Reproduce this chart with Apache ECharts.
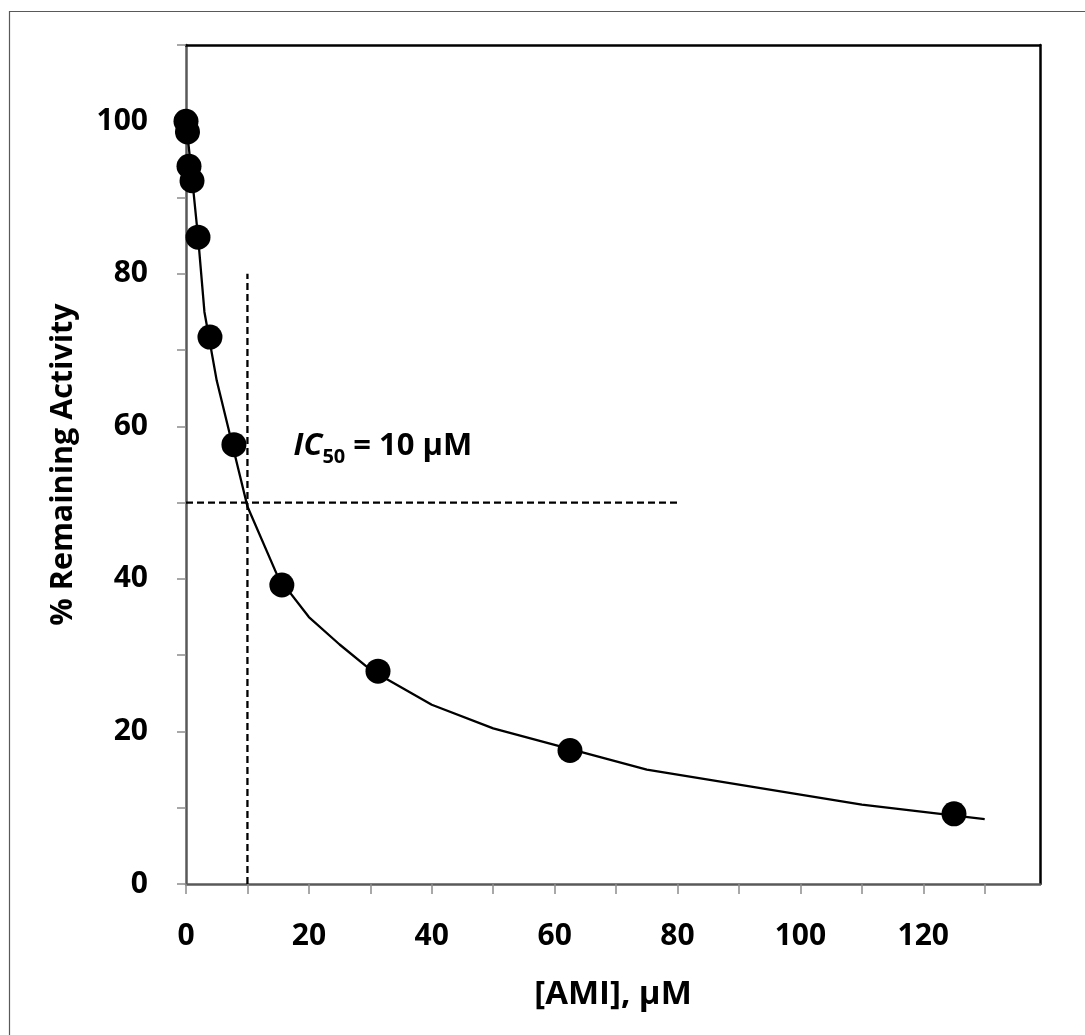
<!DOCTYPE html>
<html>
<head>
<meta charset="utf-8">
<script src="https://cdn.jsdelivr.net/npm/echarts@6/dist/echarts.min.js"></script>
<style>
  html, body { margin: 0; padding: 0; background: #fff; }
  #chart { width: 1085px; height: 1035px; }
</style>
</head>
<body>
<div id="chart"></div>
<script>
// Measured inhibition: AMI concentration (µM) vs % remaining activity
const concentrations = [0, 0.24, 0.49, 0.98, 1.95, 3.9, 7.8, 15.6, 31.25, 62.5, 125];
const remainingActivity = [100, 98.6, 94.1, 92.2, 84.8, 71.7, 57.6, 39.2, 27.9, 17.5, 9.2];

// Fitted dose-response curve vertices
const fitX = [0, 1, 2, 3, 5, 10, 15, 20, 25, 30, 40, 50, 75, 110, 130];
const fitY = [100, 92.5, 84.5, 75, 66, 49.5, 40.2, 35, 31.4, 28.1, 23.5, 20.4, 15, 10.4, 8.5];

// IC50 guide lines
const ic50 = 10;
const halfActivity = 50;
const guideTopY = 80;
const guideRightX = 80;

// Axis ticks and labels
const xTicks = [0, 10, 20, 30, 40, 50, 60, 70, 80, 90, 100, 110, 120, 130];
const xTickLabels = [0, 20, 40, 60, 80, 100, 120];
const yTicks = [0, 10, 20, 30, 40, 50, 60, 70, 80, 90, 100, 110];
const yTickLabels = [0, 20, 40, 60, 80, 100];
const xMax = 139;
const yMax = 110;

const FONT = '"Open Sans", Lato, sans-serif';
const AXIS_GREY = '#595959';
const TICK_GREY = '#8c8c8c';

const chart = echarts.init(document.getElementById('chart'), null, { renderer: 'canvas' });

const zip = (xs, ys) => xs.map((x, i) => [x, ys[i]]);

const option = {
  animation: false,
  backgroundColor: '#ffffff',
  grid: {
    left: 186, top: 45, right: 45, bottom: 151,
    containLabel: false,
    outerBoundsMode: 'none'
  },
  xAxis: [
    {
      type: 'value', min: 0, max: xMax, position: 'bottom',
      splitLine: { show: false },
      axisLine: { show: true, onZero: false, lineStyle: { color: AXIS_GREY, width: 2.5 } },
      axisTick: { show: true, customValues: xTicks, length: 10, lineStyle: { color: TICK_GREY, width: 1.5 } },
      axisLabel: {
        customValues: xTickLabels, margin: 37,
        color: '#000', fontFamily: FONT, fontWeight: 'bold', fontSize: 30
      },
      name: '[AMI], μM', nameLocation: 'middle', nameGap: 94,
      nameTextStyle: { color: '#000', fontFamily: FONT, fontWeight: 'bold', fontSize: 33 }
    },
    {
      type: 'value', min: 0, max: xMax, position: 'top',
      splitLine: { show: false },
      axisLine: { show: true, onZero: false, lineStyle: { color: '#000', width: 2.5 } },
      axisTick: { show: false }, axisLabel: { show: false }
    }
  ],
  yAxis: [
    {
      type: 'value', min: 0, max: yMax, position: 'left',
      splitLine: { show: false },
      axisLine: { show: true, onZero: false, lineStyle: { color: AXIS_GREY, width: 2.5 } },
      axisTick: { show: true, customValues: yTicks, length: 9, lineStyle: { color: TICK_GREY, width: 1.5 } },
      axisLabel: {
        customValues: yTickLabels, margin: 38,
        color: '#000', fontFamily: FONT, fontWeight: 'bold', fontSize: 30
      },
      name: '% Remaining Activity', nameLocation: 'middle', nameGap: 107, nameRotate: 90,
      nameTextStyle: { color: '#000', fontFamily: FONT, fontWeight: 'bold', fontSize: 30.5 }
    },
    {
      type: 'value', min: 0, max: yMax, position: 'right',
      splitLine: { show: false },
      axisLine: { show: true, onZero: false, lineStyle: { color: '#000', width: 2.5 } },
      axisTick: { show: false }, axisLabel: { show: false }
    }
  ],
  series: [
    {
      name: 'fit', type: 'line', xAxisIndex: 0, yAxisIndex: 0,
      data: zip(fitX, fitY), symbol: 'none', smooth: false,
      lineStyle: { color: '#000', width: 2.3, opacity: 1 }, z: 2
    },
    {
      name: 'ic50-vertical', type: 'line', xAxisIndex: 0, yAxisIndex: 0,
      data: [[ic50, 0], [ic50, guideTopY]], symbol: 'none',
      lineStyle: { color: '#000', width: 2.3, type: [7, 4], opacity: 1 }, z: 2
    },
    {
      name: 'ic50-horizontal', type: 'line', xAxisIndex: 0, yAxisIndex: 0,
      data: [[0, halfActivity], [guideRightX, halfActivity]], symbol: 'none',
      lineStyle: { color: '#000', width: 2.3, type: [7, 4], opacity: 1 }, z: 2
    },
    {
      name: 'measured', type: 'scatter', xAxisIndex: 0, yAxisIndex: 0,
      data: zip(concentrations, remainingActivity),
      symbol: 'circle', symbolSize: 25,
      itemStyle: { color: '#000', opacity: 1 }, z: 3
    }
  ]
};

chart.setOption(option);

// IC50 annotation anchored in data space
const labelAnchor = chart.convertToPixel({ gridIndex: 0 }, [17.5, 57.4]);
chart.setOption({
  graphic: [
    {
      type: 'rect', left: 7, top: 9, silent: true,
      shape: { x: 0, y: 0, width: 1200, height: 1200 },
      style: { fill: 'none', stroke: '#595959', lineWidth: 1.2 }, z: -10
    },
    {
      type: 'text', x: labelAnchor[0], y: labelAnchor[1], silent: true,
      style: {
        text: '{i|IC}{s|50}{n| = 10 μM}',
        verticalAlign: 'middle',
        rich: {
          i: { fontFamily: FONT, fontWeight: 'bold', fontStyle: 'italic', fontSize: 31, lineHeight: 42, fill: '#000', verticalAlign: 'middle' },
          s: { fontFamily: FONT, fontWeight: 'bold', fontSize: 20, lineHeight: 21, fill: '#000', verticalAlign: 'bottom' },
          n: { fontFamily: FONT, fontWeight: 'bold', fontSize: 31, lineHeight: 42, fill: '#000', verticalAlign: 'middle' }
        }
      }
    }
  ]
});
</script>
</body>
</html>
